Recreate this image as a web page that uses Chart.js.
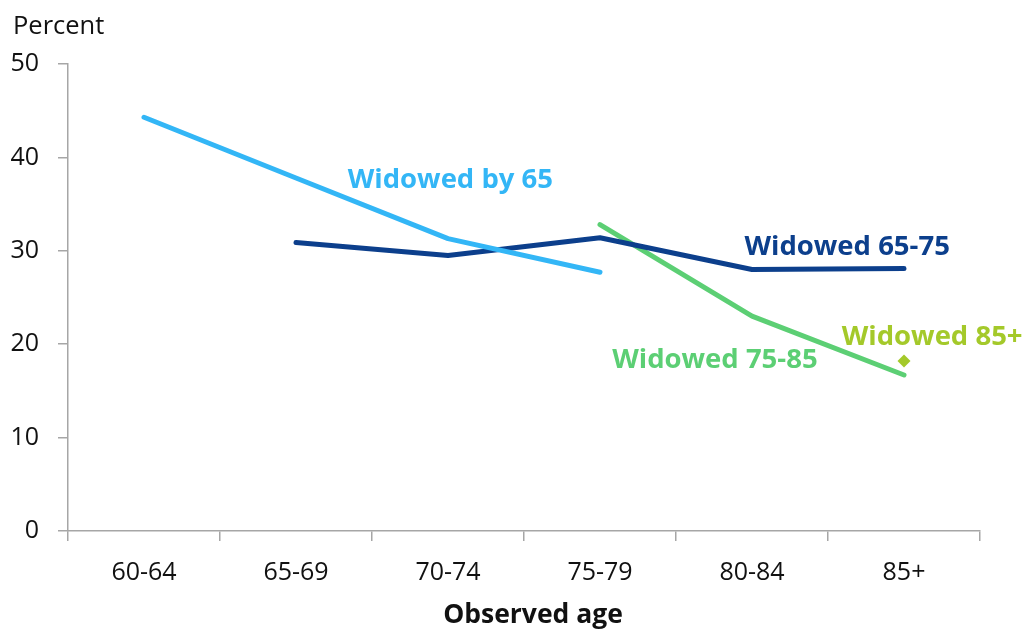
<!DOCTYPE html>
<html>
<head>
<meta charset="utf-8">
<script src="https://cdn.jsdelivr.net/npm/chart.js@4"></script>
<style>
  html, body { margin: 0; padding: 0; background: #ffffff; }
  #wrap { width: 1026px; height: 631px; position: relative; }
</style>
</head>
<body>
<div id="wrap"><canvas id="c" width="1026" height="631"></canvas></div>
<script>
const categories = ["60-64", "65-69", "70-74", "75-79", "80-84", "85+"];
const widowedBy65   = [44.3, 37.8, 31.3, 27.7, null, null];
const widowed65to75 = [null, 30.9, 29.5, 31.4, 28.0, 28.1];
const widowed75to85 = [null, null, null, 32.8, 23.0, 16.7];
const widowed85plus = [null, null, null, null, null, 18.2];
const yTicks = [0, 10, 20, 30, 40, 50];

const seriesLabels = ["Widowed by 65", "Widowed 65-75", "Widowed 75-85", "Widowed 85+"];
const colors = ["#33b6f6", "#0c3f8c", "#5ccf74", "#a4c92a"];
// label anchors in data space: [category index (fractional), value]
const labelAnchors = [[1.34, 37.6], [3.95, 30.4], [3.08, 18.3], [4.59, 20.8]];

const FONT = "'Open Sans', 'Noto Sans', sans-serif";
const AXIS = "#a6a6a6";

const annotatePlugin = {
  id: 'annot',
  afterDatasetsDraw(chart) {
    const ctx = chart.ctx;
    const xs = chart.scales.x, ys = chart.scales.y;
    ctx.save();
    ctx.textBaseline = 'middle';
    ctx.textAlign = 'left';
    ctx.font = "bold 27.5px " + FONT;
    seriesLabels.forEach((t, i) => {
      const [cx, v] = labelAnchors[i];
      const x0 = xs.getPixelForValue(Math.floor(cx));
      const x1 = xs.getPixelForValue(Math.floor(cx) + 1);
      const px = x0 + (x1 - x0) * (cx - Math.floor(cx));
      ctx.fillStyle = colors[i];
      ctx.fillText(t, px, ys.getPixelForValue(v));
    });
    ctx.font = "25.5px " + FONT;
    ctx.fillStyle = "#111";
    ctx.fillText("Percent", 13, 27);
    ctx.font = "bold 26.5px " + FONT;
    ctx.textAlign = 'center';
    ctx.fillText("Observed age", (xs.left + xs.right) / 2 + 9, 615);
    ctx.restore();
  }
};

new Chart(document.getElementById('c'), {
  type: 'line',
  data: {
    labels: categories,
    datasets: [
      { label: seriesLabels[0], data: widowedBy65, borderColor: colors[0], backgroundColor: colors[0], borderWidth: 5, pointRadius: 0 },
      { label: seriesLabels[1], data: widowed65to75, borderColor: colors[1], backgroundColor: colors[1], borderWidth: 5, pointRadius: 0 },
      { label: seriesLabels[2], data: widowed75to85, borderColor: colors[2], backgroundColor: colors[2], borderWidth: 5, pointRadius: 0 },
      { label: seriesLabels[3], data: widowed85plus, borderColor: colors[3], backgroundColor: colors[3], borderWidth: 0, pointRadius: 6.5, pointStyle: 'rectRot', showLine: false }
    ]
  },
  options: {
    responsive: false,
    animation: false,
    devicePixelRatio: 1,
    layout: { padding: { top: 64, right: 46, left: 0, bottom: 0 } },
    elements: { line: { borderCapStyle: 'round', borderJoinStyle: 'round', tension: 0 } },
    plugins: { legend: { display: false }, tooltip: { enabled: false } },
    scales: {
      x: {
        offset: true,
        grid: { offset: true, drawOnChartArea: false, drawTicks: true, tickLength: 10, color: AXIS, lineWidth: 1.5 },
        border: { display: true, color: AXIS, width: 1.5 },
        ticks: { color: "#111", font: { family: FONT, size: 25 }, padding: 17, maxRotation: 0 },
        title: { display: false },
        afterFit(s) { s.height = 100; }
      },
      y: {
        min: 0, max: 50,
        afterBuildTicks(s) { s.ticks = yTicks.map(v => ({ value: v })); },
        grid: { drawOnChartArea: false, drawTicks: true, tickLength: 10, color: AXIS, lineWidth: 1.5 },
        border: { display: true, color: AXIS, width: 1.5 },
        ticks: { color: "#111", font: { family: FONT, size: 25 }, padding: 19 },
        afterFit(s) { s.width = 68; }
      }
    }
  },
  plugins: [annotatePlugin]
});
</script>
</body>
</html>
